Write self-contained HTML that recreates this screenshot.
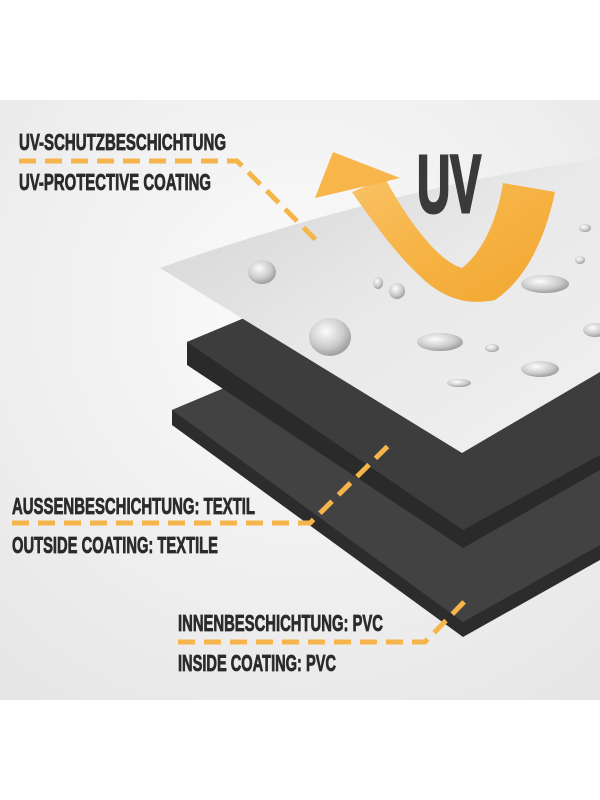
<!DOCTYPE html>
<html><head><meta charset="utf-8"><style>
html,body{margin:0;padding:0;background:#fff}
svg{display:block}
text{font-family:"Liberation Sans Narrow","Liberation Sans",sans-serif;font-weight:bold;fill:#2b2b2b;stroke:#2b2b2b;stroke-width:0.8}
</style></head><body>
<svg width="600" height="800" viewBox="0 0 600 800" xmlns="http://www.w3.org/2000/svg">
<defs>
<radialGradient id="bg" cx="0.5" cy="0.35" r="0.8">
<stop offset="0" stop-color="#fbfbfb"/><stop offset="1" stop-color="#e6e6e6"/>
</radialGradient>
<linearGradient id="lt" x1="0" y1="0" x2="1" y2="1">
<stop offset="0" stop-color="#d2d2d2"/><stop offset="0.5" stop-color="#e9e9e9"/><stop offset="1" stop-color="#f0f0f0"/>
</linearGradient>
<linearGradient id="or" x1="0" y1="0" x2="1" y2="1">
<stop offset="0" stop-color="#f9c265"/><stop offset="0.5" stop-color="#f6b243"/><stop offset="1" stop-color="#f1a730"/>
</linearGradient>
<radialGradient id="dr" cx="0.4" cy="0.35" r="0.7">
<stop offset="0" stop-color="#ffffff"/><stop offset="0.6" stop-color="#c9c9c9"/><stop offset="1" stop-color="#8d8d8d"/>
</radialGradient>
</defs>
<rect x="0" y="100" width="600" height="600" fill="url(#bg)"/>
<polygon points="172,410 600,230 600,560 463,637 172,425" fill="#2c2c2c"/>
<polygon points="172,410 600,230 600,545 463,622" fill="#424242"/>
<polygon points="187,342 600,170 600,470 463,548 187,365" fill="#2a2a2a"/>
<polygon points="187,342 600,170 600,455 463,530" fill="#3d3d3d"/>
<path d="M160,268 Q380,190 600,158 L600,372 L462,453 Z" fill="url(#lt)"/>
<g fill="url(#dr)" opacity="0.9">
<ellipse cx="262" cy="272" rx="14" ry="12"/>
<ellipse cx="330" cy="337" rx="21" ry="19"/>
<ellipse cx="397" cy="291" rx="8" ry="8"/>
<ellipse cx="378" cy="283" rx="5" ry="6"/>
<ellipse cx="545" cy="284" rx="24" ry="9"/>
<ellipse cx="440" cy="342" rx="23" ry="9"/>
<ellipse cx="540" cy="369" rx="19" ry="8"/>
<ellipse cx="459" cy="383" rx="12" ry="4"/>
<ellipse cx="492" cy="348" rx="7" ry="4"/>
<ellipse cx="595" cy="330" rx="12" ry="7"/>
<ellipse cx="585" cy="228" rx="6" ry="4"/>
<ellipse cx="580" cy="260" rx="5" ry="4"/>
</g>
<!-- UV arrow ribbon -->
<path d="M352,192 L385,178 C410,225 440,262 462,268 C485,250 498,215 503,183 L555,192 C545,240 525,280 495,300 C470,305 450,300 430,285 C400,260 375,225 352,192 Z" fill="url(#or)"/>
<polygon points="315,198 333,152 400,178" fill="#f7b54a"/>
<text x="417" y="212" font-size="82" textLength="64" lengthAdjust="spacingAndGlyphs" style="fill:#3a3a3a;stroke:#3a3a3a;stroke-width:3">UV</text>
<g fill="none" stroke="#f5b54a" stroke-width="5" stroke-dasharray="17,9">
<polyline points="19,161 237,161 318,242"/>
<polyline points="12,523 310,523 390,444"/>
<polyline points="178,642 425,642 466,600"/>
</g>
<text x="19" y="150" font-size="23" textLength="207" lengthAdjust="spacingAndGlyphs">UV-SCHUTZBESCHICHTUNG</text>
<text x="19" y="190" font-size="23" textLength="192" lengthAdjust="spacingAndGlyphs">UV-PROTECTIVE COATING</text>
<text x="12" y="514" font-size="23" textLength="243" lengthAdjust="spacingAndGlyphs">AUSSENBESCHICHTUNG: TEXTIL</text>
<text x="12" y="553" font-size="23" textLength="206" lengthAdjust="spacingAndGlyphs">OUTSIDE COATING: TEXTILE</text>
<text x="178" y="631" font-size="23" textLength="205" lengthAdjust="spacingAndGlyphs">INNENBESCHICHTUNG: PVC</text>
<text x="178" y="671" font-size="23" textLength="158" lengthAdjust="spacingAndGlyphs">INSIDE COATING: PVC</text>
</svg>
</body></html>
